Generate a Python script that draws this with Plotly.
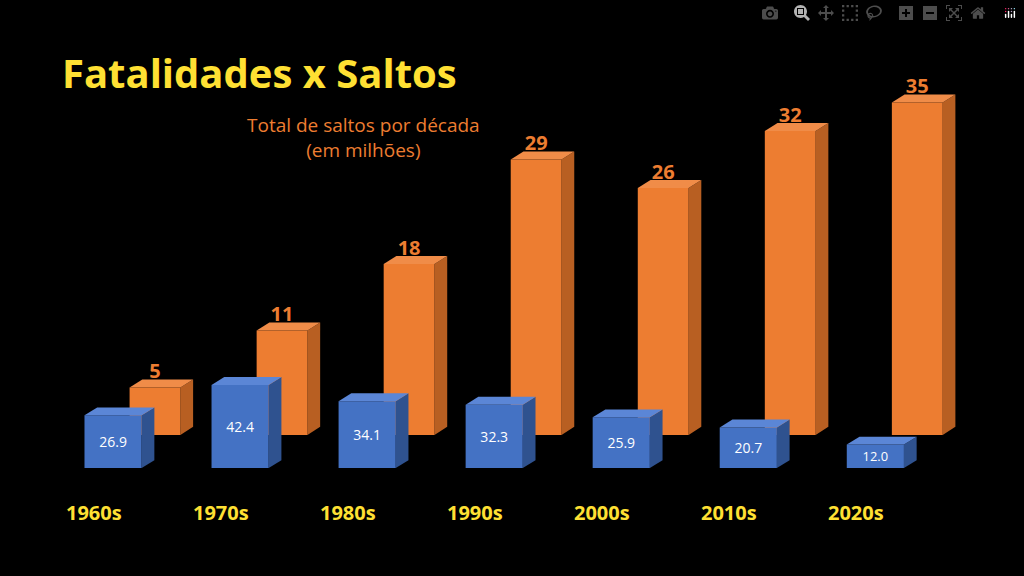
import plotly.graph_objects as go

decades = ["1960s", "1970s", "1980s", "1990s", "2000s", "2010s", "2020s"]
fatalities = [26.9, 42.4, 34.1, 32.3, 25.9, 20.7, 12.0]
jumps = [5, 11, 18, 29, 26, 32, 35]

BLUE, BLUE_SIDE, BLUE_TOP = "#4472C4", "#2F528F", "#5B86D6"
ORANGE, ORANGE_SIDE, ORANGE_TOP = "#ED7D31", "#B85F22", "#F08C48"
YELLOW = "#FFE033"

x = list(range(len(decades)))
fig = go.Figure()

# back row: jumps (orange), base axis
fig.add_trace(go.Bar(x=x, y=jumps, offset=0.13, width=0.4, yaxis="y",
                     marker=dict(color=ORANGE, line_width=0),
                     text=[f"<b>{v}</b>" for v in jumps], textposition="outside",
                     textfont=dict(color=ORANGE, size=20, family="Open Sans"),
                     cliponaxis=False))
# front row: fatalities (blue), overlaying axis so it is drawn in front
fig.add_trace(go.Bar(x=x, y=fatalities, offset=-0.225, width=0.45, yaxis="y2",
                     marker=dict(color=BLUE, line_width=0),
                     text=[f"{v:.1f}" for v in fatalities], textposition="inside",
                     insidetextanchor="middle",
                     textfont=dict(color="white", size=14, family="Open Sans")))

def faces(x0, x1, v, dx, dy, yref, side, top, layer):
    return [
        dict(type="path", xref="x", yref=yref, layer=layer, line_width=0, fillcolor=side,
             path=f"M{x1},0 L{x1+dx},{dy} L{x1+dx},{v+dy} L{x1},{v} Z"),
        dict(type="path", xref="x", yref=yref, layer=layer, line_width=0, fillcolor=top,
             path=f"M{x0},{v} L{x0+dx},{v+dy} L{x1+dx},{v+dy} L{x1},{v} Z"),
    ]

shapes = []
for i, v in enumerate(jumps):
    shapes += faces(i + 0.13, i + 0.53, v, 0.1, 0.85, "y", ORANGE_SIDE, ORANGE_TOP, "below")
for i, v in enumerate(fatalities):
    shapes += faces(i - 0.225, i + 0.225, v, 0.1, 4, "y2", BLUE_SIDE, BLUE_TOP, "above")

annotations = [dict(x=i - 0.15, y=(576 - 512) / 576, xref="x", yref="paper", yanchor="middle",
                    text=f"<b>{d}</b>", showarrow=False,
                    font=dict(color=YELLOW, size=20, family="Open Sans"))
               for i, d in enumerate(decades)]
annotations += [
    dict(x=60 / 1024, y=(576 - 72) / 576, xref="paper", yref="paper", xanchor="left",
         yanchor="middle", text="<b>Fatalidades x Saltos</b>", showarrow=False,
         font=dict(color=YELLOW, size=40, family="Open Sans")),
    dict(x=245 / 1024, y=(576 - 137) / 576, xref="paper", yref="paper", yanchor="middle",
         text="Total de saltos por década<br>(em milhões)", showarrow=False,
         font=dict(color=ORANGE, size=19, family="Open Sans")),
]

fig.update_layout(
    width=1024, height=576, paper_bgcolor="black", plot_bgcolor="black",
    margin=dict(l=0, r=0, t=0, b=0), showlegend=False, barmode="overlay",
    xaxis=dict(range=[-0.89, 7.17], visible=False),
    yaxis=dict(range=[-3.48, 40], domain=[0.1875, 0.9045], visible=False),
    yaxis2=dict(range=[0, 210.7], visible=False, overlaying="y"),
    shapes=shapes, annotations=annotations,
)
fig.write_html("out.html")

# drop the browser's default page margin
with open("out.html") as f:
    html = f.read()
html = html.replace("<head>", "<head><style>body{margin:0;background:black}</style>", 1)
with open("out.html", "w") as f:
    f.write(html)
